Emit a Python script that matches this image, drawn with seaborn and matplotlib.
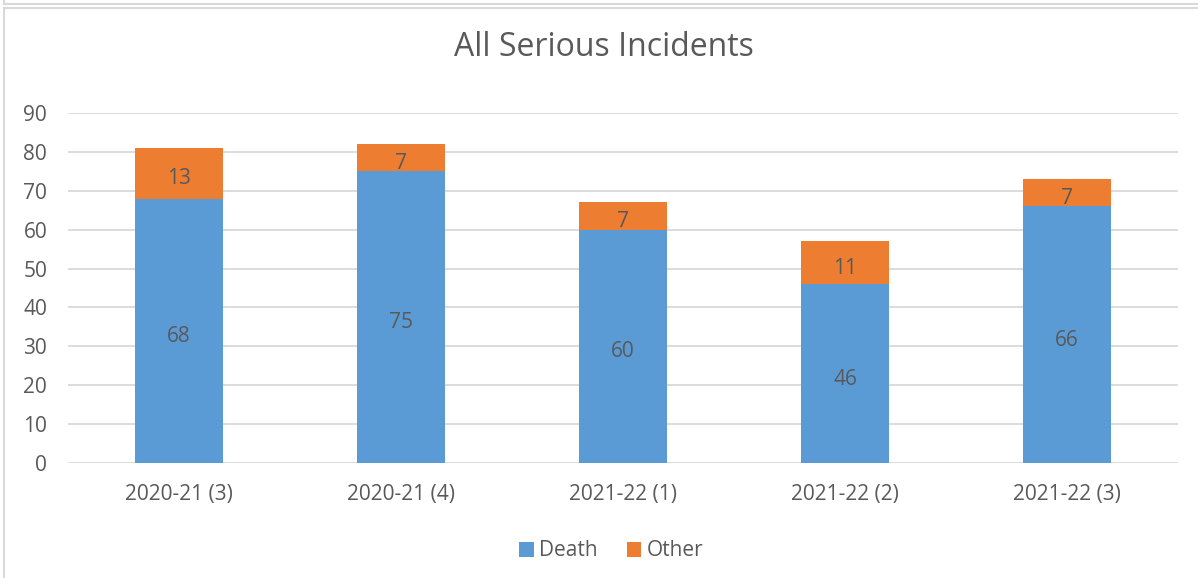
import matplotlib
matplotlib.use("Agg")
import matplotlib.pyplot as plt
import seaborn as sns
import pandas as pd
from matplotlib.patches import Patch, Rectangle
from matplotlib.lines import Line2D

periods = ["2020-21 (3)", "2020-21 (4)", "2021-22 (1)", "2021-22 (2)", "2021-22 (3)"]
death = [68, 75, 60, 46, 66]
other = [13, 7, 7, 11, 7]
yticks = [0, 10, 20, 30, 40, 50, 60, 70, 80, 90]

blue = "#5B9BD5"
orange = "#ED7D31"
text_color = "#595959"
grid_color = "#D9D9D9"

sns.set_theme(style="white")
plt.rcParams["font.family"] = ["Open Sans", "DejaVu Sans"]

df = pd.DataFrame({"period": periods, "death": death, "other": other})
df["total"] = df["death"] + df["other"]

fig = plt.figure(figsize=(11.98, 5.78), dpi=100)
ax = fig.add_axes([68 / 1198, 1 - 463 / 578, 1110 / 1198, 350 / 578])

# stacked bars: totals in orange, deaths drawn over them in blue
sns.barplot(data=df, x="period", y="total", color=orange, width=0.4,
            saturation=1, linewidth=0, ax=ax, zorder=3)
sns.barplot(data=df, x="period", y="death", color=blue, width=0.4,
            saturation=1, linewidth=0, ax=ax, zorder=4)

# value labels centred in each segment
for i, (d, o) in enumerate(zip(death, other)):
    for yc, val in ((d / 2, d), (d + o / 2, o)):
        ax.annotate(str(val), (i, yc), xytext=(0, -4),
                    textcoords="offset points", ha="center", va="center",
                    fontsize=15, color=text_color, zorder=5)

ax.set_ylim(0, 90)
ax.set_xlim(-0.5, len(periods) - 0.5)
ax.set_yticks(yticks)
ax.set_yticklabels([str(t) for t in yticks])
ax.yaxis.grid(True, color=grid_color, linewidth=1.3, zorder=0)
ax.set_axisbelow(True)
for s in ax.spines.values():
    s.set_visible(False)
ax.tick_params(axis="both", length=0, labelsize=15, labelcolor=text_color)
ax.tick_params(axis="y", pad=15)
ax.tick_params(axis="x", pad=15)
ax.set_xlabel("")
ax.set_ylabel("")

fig.text(604 / 1198, 1 - 48 / 578, "All Serious Incidents", ha="center",
         va="center", fontsize=23, color=text_color)

handles = [Patch(facecolor=blue, edgecolor="none"),
           Patch(facecolor=orange, edgecolor="none")]
fig.legend(handles, ["Death", "Other"], loc="center",
           bbox_to_anchor=(611 / 1198, 1 - 551 / 578), ncol=2, frameon=False,
           fontsize=15, labelcolor=text_color, handlelength=0.7,
           handleheight=0.7, handletextpad=0.25, columnspacing=1.4)

# chart frame
fig.add_artist(Rectangle((3.5 / 1198, -0.05), 1.2, 1 - 8.5 / 578 + 0.05,
                         transform=fig.transFigure, fill=False,
                         edgecolor=grid_color, linewidth=1.5))
fig.add_artist(Line2D([3.5 / 1198, 1], [1 - 4 / 578, 1 - 4 / 578],
                      transform=fig.transFigure, color=grid_color,
                      linewidth=1.5))
fig.add_artist(Line2D([3.5 / 1198, 3.5 / 1198], [1 - 4 / 578, 1],
                      transform=fig.transFigure, color=grid_color,
                      linewidth=1.5))

fig.savefig("out.png", dpi=100, facecolor="white")
